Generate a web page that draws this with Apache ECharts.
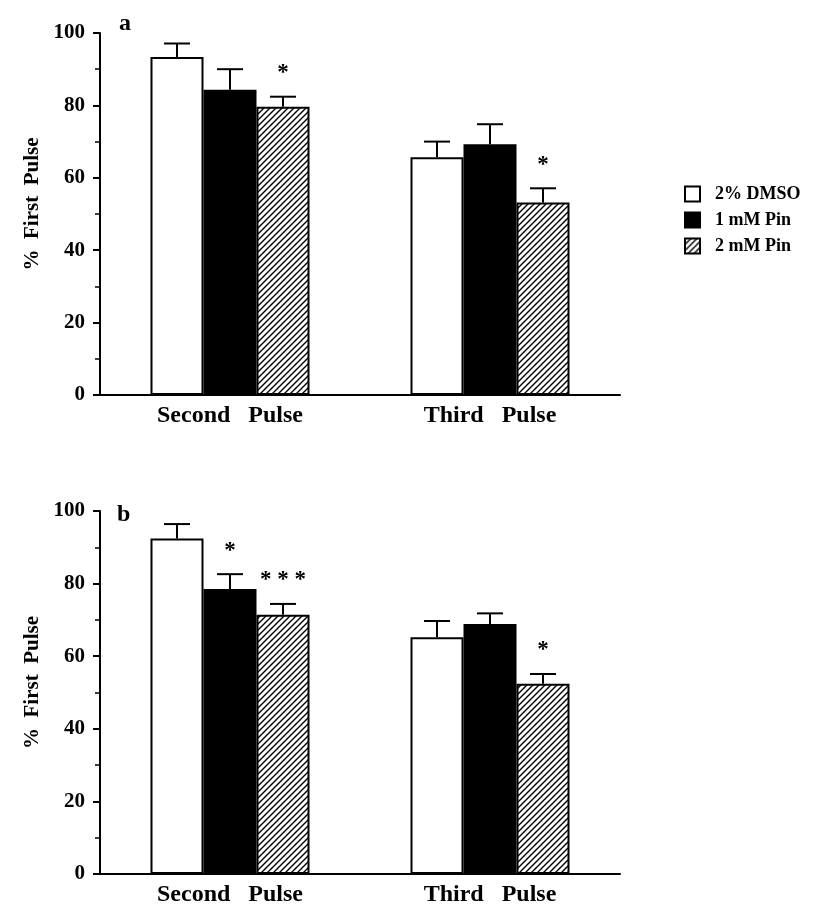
<!DOCTYPE html>
<html>
<head>
<meta charset="utf-8">
<script src="https://cdn.jsdelivr.net/npm/echarts@6/dist/echarts.min.js"></script>
<style>
  html, body { margin: 0; padding: 0; background: #fff; }
  #chart { width: 813px; height: 918px; }
</style>
</head>
<body>
<div id="chart"></div>
<script>
// data
const categories = ['Second   Pulse', 'Third   Pulse']
const groupNames = ['2% DMSO', '1 mM Pin', '2 mM Pin']
const yTicks = [0, 20, 40, 60, 80, 100]

// panel a
const aDmso = [93.4, 65.7]
const aDmsoErr = [3.7, 4.3]
const aPin1 = [84.3, 69.3]
const aPin1Err = [5.7, 5.5]
const aPin2 = [79.6, 53.2]
const aPin2Err = [2.8, 3.9]
const aSig = [['', ''], ['', ''], ['*', '*']]

// panel b
const bDmso = [92.4, 65.2]
const bDmsoErr = [4.0, 4.5]
const bPin1 = [78.5, 68.9]
const bPin1Err = [4.1, 2.9]
const bPin2 = [71.4, 52.4]
const bPin2Err = [3.0, 2.7]
const bSig = [['', ''], ['*', ''], ['* * *', '*']]

const FONT = '"Liberation Serif", "DejaVu Serif", serif'
const BAR_W = 53

// diagonal hatch for 2 mM Pin
function hatch() {
  const c = document.createElement('canvas')
  c.width = 6
  c.height = 6
  const ctx = c.getContext('2d')
  ctx.fillStyle = '#fff'
  ctx.fillRect(0, 0, 6, 6)
  ctx.strokeStyle = '#000'
  ctx.lineWidth = 1.4
  ctx.beginPath()
  ctx.moveTo(0, 6); ctx.lineTo(6, 0)
  ctx.moveTo(-1, 1); ctx.lineTo(1, -1)
  ctx.moveTo(5, 7); ctx.lineTo(7, 5)
  ctx.stroke()
  return { image: c, repeat: 'repeat' }
}

const fills = ['#ffffff', '#000000', hatch()]

function barSeries(name, i, values, axis) {
  return {
    name: name,
    type: 'bar',
    xAxisIndex: axis,
    yAxisIndex: axis,
    barWidth: BAR_W,
    barGap: '0%',
    itemStyle: { color: fills[i], borderColor: '#000', borderWidth: 2 },
    data: values
  }
}

function errSeries(i, values, errs, sig, axis) {
  return {
    type: 'custom',
    xAxisIndex: axis,
    yAxisIndex: axis,
    z: 5,
    silent: true,
    encode: { x: 0, y: 1 },
    data: values.map((v, k) => [k, v, errs[k]]),
    renderItem: function (params, api) {
      const base = api.coord([api.value(0), api.value(1)])
      const top = api.coord([api.value(0), api.value(1) + api.value(2)])
      const x = base[0] + (i - 1) * BAR_W
      const children = [
        { type: 'line', shape: { x1: x, y1: base[1], x2: x, y2: top[1] }, style: { stroke: '#000', lineWidth: 2 } },
        { type: 'line', shape: { x1: x - 13, y1: top[1], x2: x + 13, y2: top[1] }, style: { stroke: '#000', lineWidth: 2 } }
      ]
      const mark = sig[api.value(0)]
      if (mark) {
        children.push({
          type: 'text',
          style: {
            text: mark, x: x, y: top[1] - 12,
            align: 'center', verticalAlign: 'bottom',
            font: 'bold 23px ' + FONT, fill: '#000'
          }
        })
      }
      return { type: 'group', children: children }
    }
  }
}

function xAxis(grid) {
  return {
    type: 'category',
    gridIndex: grid,
    data: categories,
    axisLine: { lineStyle: { color: '#000', width: 2 } },
    axisTick: { show: false },
    axisLabel: { color: '#000', fontFamily: FONT, fontWeight: 'bold', fontSize: 24, margin: 9 }
  }
}

function yAxis(grid) {
  return {
    type: 'value',
    gridIndex: grid,
    min: yTicks[0],
    max: yTicks[yTicks.length - 1],
    interval: yTicks[1] - yTicks[0],
    name: '%  First  Pulse',
    nameLocation: 'middle',
    nameGap: 55,
    nameTextStyle: { color: '#000', fontFamily: FONT, fontWeight: 'bold', fontSize: 21, padding: [0, 0, 0, 20] },
    splitLine: { show: false },
    axisLine: { show: true, lineStyle: { color: '#000', width: 2 } },
    axisTick: { show: true, length: 7, lineStyle: { color: '#000', width: 2 } },
    minorTick: { show: true, splitNumber: 2, length: 5, lineStyle: { color: '#000', width: 1.5 } },
    axisLabel: { color: '#000', fontFamily: FONT, fontWeight: 'bold', fontSize: 21, margin: 15 }
  }
}

const chart = echarts.init(document.getElementById('chart'))
chart.setOption({
  animation: false,
  backgroundColor: '#fff',
  grid: [
    { left: 100, width: 520, top: 33, height: 362 },
    { left: 100, width: 520, top: 511, height: 363 }
  ],
  legend: {
    orient: 'vertical',
    left: 679,
    top: 180,
    itemWidth: 15,
    itemHeight: 15,
    itemGap: 8,
    icon: 'rect',
    data: groupNames,
    textStyle: { color: '#000', fontFamily: FONT, fontWeight: 'bold', fontSize: 18, padding: [0, 0, 0, 10] }
  },
  graphic: [
    { type: 'text', left: 119, top: 12, style: { text: 'a', font: 'bold 24px ' + FONT, fill: '#000' } },
    { type: 'text', left: 117, top: 503, style: { text: 'b', font: 'bold 24px ' + FONT, fill: '#000' } }
  ],
  xAxis: [xAxis(0), xAxis(1)],
  yAxis: [yAxis(0), yAxis(1)],
  series: [
    barSeries(groupNames[0], 0, aDmso, 0),
    barSeries(groupNames[1], 1, aPin1, 0),
    barSeries(groupNames[2], 2, aPin2, 0),
    errSeries(0, aDmso, aDmsoErr, aSig[0], 0),
    errSeries(1, aPin1, aPin1Err, aSig[1], 0),
    errSeries(2, aPin2, aPin2Err, aSig[2], 0),
    barSeries(groupNames[0], 0, bDmso, 1),
    barSeries(groupNames[1], 1, bPin1, 1),
    barSeries(groupNames[2], 2, bPin2, 1),
    errSeries(0, bDmso, bDmsoErr, bSig[0], 1),
    errSeries(1, bPin1, bPin1Err, bSig[1], 1),
    errSeries(2, bPin2, bPin2Err, bSig[2], 1)
  ]
})
</script>
</body>
</html>
